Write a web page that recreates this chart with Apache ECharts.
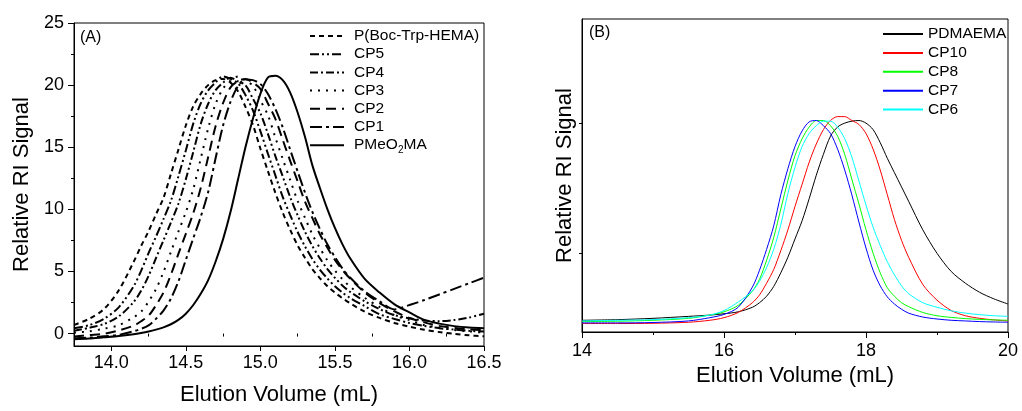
<!DOCTYPE html>
<html><head><meta charset="utf-8">
<script src="https://cdn.jsdelivr.net/npm/echarts@6/dist/echarts.min.js"></script>
<style>html,body{margin:0;padding:0;background:#fff}#c{width:1022px;height:411px}</style>
</head><body><div id="c"></div>
<script>
// ---------- Panel A data ----------
const xA = [13.75,13.85,13.95,14.05,14.15,14.2,14.25,14.3,14.35,14.4,14.45,14.5,14.55,14.6,14.65,14.7,14.75,14.8,14.85,14.9,14.95,15.0,15.05,15.1,15.15,15.2,15.25,15.3,15.35,15.4,15.45,15.5,15.55,15.6,15.7,15.8,15.9,16.0,16.1,16.2,16.3,16.4,16.5];
const pBocTrpHEMA = [0.70,1.18,1.96,3.48,5.77,7.05,8.24,9.6,10.92,12.85,14.8,16.75,18.3,19.3,20.0,20.4,20.5,20.2,19.5,18.25,16.8,14.9,13.1,11.35,9.74,8.35,7.1,6.08,5.17,4.45,3.81,3.30,2.85,2.46,1.76,1.26,0.85,0.55,0.31,0.12,-0.02,-0.14,-0.22];
const cp5 = [0.42,0.67,1.18,2.11,3.81,5.05,6.48,7.81,9.21,10.68,12.65,14.74,16.9,18.53,19.58,20.22,20.7,20.5,20.15,19.2,17.97,16.3,14.5,12.75,11.0,9.54,8.18,7.0,5.98,5.13,4.43,3.81,3.31,2.88,2.21,1.55,1.18,0.85,0.62,0.43,0.32,0.22,0.16];
const cp4 = [0.23,0.46,0.77,1.38,2.54,3.44,4.64,6.08,7.5,8.94,10.45,12.42,14.63,16.87,18.5,19.6,20.2,20.6,20.3,20.0,18.9,17.75,16.1,14.3,12.65,10.98,9.52,8.18,7.02,6.04,5.19,4.49,3.87,3.38,2.6,1.97,1.48,1.23,1.05,1.0,1.09,1.29,1.6];
const cp3 = [0.07,0.18,0.39,0.67,1.31,1.76,2.57,3.58,4.95,6.57,8.2,9.77,11.63,14.08,16.52,18.5,19.73,20.35,20.7,20.35,19.95,18.77,17.6,15.8,14.06,12.36,10.68,9.3,7.95,6.87,5.88,5.07,4.39,3.79,2.88,2.14,1.47,1.08,0.68,0.48,0.29,0.18,0.07];
const cp2 = [-0.23,-0.12,-0.02,0.25,0.64,0.99,1.44,2.28,3.3,4.74,6.41,8.03,9.69,11.72,14.21,16.71,18.56,19.82,20.33,20.5,20.2,19.7,18.54,17.3,15.6,13.9,12.25,10.6,9.27,7.98,6.9,5.93,5.13,4.45,3.3,2.45,1.78,1.25,0.9,0.62,0.45,0.33,0.28];
const cp1 = [-0.37,-0.33,-0.22,-0.1,0.19,0.38,0.66,1.19,1.85,2.82,4.19,5.93,7.67,9.39,11.4,14.13,16.75,18.66,19.92,20.46,20.4,20.1,19.3,18.1,16.6,14.8,13.05,11.33,9.76,8.4,7.17,6.16,5.25,4.53,3.4,2.6,1.94,2.3,2.7,3.15,3.6,4.05,4.5];
const pMeO2MA = [-0.45,-0.4,-0.3,-0.2,-0.05,0.05,0.17,0.32,0.5,0.75,1.1,1.6,2.3,3.2,4.3,5.8,7.6,9.8,12.4,15.0,17.3,19.3,20.6,20.75,20.4,19.4,17.8,15.8,13.5,11.7,10.0,8.5,7.2,6.1,4.4,3.3,2.35,1.7,1.1,0.8,0.6,0.48,0.42];
const namesA = ['P(Boc-Trp-HEMA)','CP5','CP4','CP3','CP2','CP1','PMeO2MA'];
const xATicks = [14.0,14.5,15.0,15.5,16.0,16.5];
const xAMinorTicks = [13.75,14.25,14.75,15.25,15.75,16.25];
const yATicks = [0,5,10,15,20,25];
const yAMinorTicks = [2.5,7.5,12.5,17.5,22.5];

// ---------- Panel B data ----------
const xB = [14.0,14.5,15.0,15.5,15.8,16.0,16.2,16.4,16.5,16.6,16.7,16.8,16.9,17.0,17.1,17.2,17.3,17.4,17.5,17.6,17.7,17.8,17.9,18.0,18.1,18.2,18.3,18.4,18.5,18.6,18.8,19.0,19.2,19.4,19.6,19.8,20.0];
const pdmaema = [0.485,0.49,0.5,0.515,0.525,0.535,0.55,0.585,0.62,0.67,0.745,0.85,0.97,1.11,1.25,1.42,1.6,1.76,1.9,1.97,2.0,2.015,2.02,2.0,1.95,1.85,1.73,1.62,1.51,1.4,1.18,1.0,0.86,0.77,0.7,0.65,0.61];
const cp10 = [0.46,0.46,0.462,0.47,0.485,0.505,0.545,0.62,0.68,0.77,0.875,1.02,1.18,1.36,1.53,1.7,1.84,1.95,2.02,2.05,2.05,2.02,1.99,1.92,1.8,1.64,1.45,1.26,1.1,0.97,0.76,0.64,0.56,0.52,0.5,0.488,0.48];
const cp8 = [0.475,0.478,0.485,0.5,0.525,0.55,0.6,0.71,0.8,0.946,1.12,1.34,1.56,1.75,1.88,1.97,2.02,2.02,1.98,1.9,1.76,1.57,1.38,1.18,1.0,0.85,0.735,0.67,0.62,0.59,0.545,0.52,0.507,0.498,0.492,0.488,0.485];
const cp7 = [0.465,0.465,0.468,0.48,0.505,0.53,0.585,0.74,0.87,1.03,1.21,1.45,1.65,1.82,1.94,2.01,2.02,1.98,1.92,1.8,1.64,1.45,1.24,1.04,0.87,0.75,0.665,0.61,0.57,0.54,0.51,0.495,0.485,0.48,0.475,0.472,0.47];
const cp6 = [0.48,0.485,0.49,0.505,0.525,0.56,0.625,0.71,0.785,0.89,1.03,1.22,1.46,1.66,1.82,1.92,1.98,2.015,2.015,1.97,1.88,1.74,1.555,1.37,1.2,1.06,0.935,0.835,0.75,0.69,0.62,0.585,0.558,0.54,0.528,0.52,0.515];
const namesB = ['PDMAEMA','CP10','CP8','CP7','CP6'];
const xBTicks = [14,16,18,20];
const xBMinorTicks = [15,17,19];
const yBTicks = [1,2];

const FONT = 'Liberation Sans, Arial, sans-serif';
const pairs = (xs, ys) => xs.map((x, i) => [x, ys[i]]);

const dashA = [[5,4],[9,3,2,3,2,3],[8,3,2,3,8,3,2,3,2,3],[2,6],[10,6],[12,4,3,4],'solid'];
const dataA = [pBocTrpHEMA, cp5, cp4, cp3, cp2, cp1, pMeO2MA];
const colorsB = ['#000000','#ff0000','#00ff00','#0000ff','#00ffff'];
const dataB = [pdmaema, cp10, cp8, cp7, cp6];

const series = [];
namesA.forEach((n, i) => series.push({
  name: n, type: 'line', xAxisIndex: 0, yAxisIndex: 0, data: pairs(xA, dataA[i]),
  symbol: 'none', smooth: 0.3, color: '#000',
  lineStyle: {color: '#000', width: 2, type: dashA[i]}
}));
namesB.forEach((n, i) => series.push({
  name: n, type: 'line', xAxisIndex: 2, yAxisIndex: 2, data: pairs(xB, dataB[i]),
  symbol: 'none', smooth: 0.3, color: colorsB[i],
  lineStyle: {color: colorsB[i], width: 1}
}));

const lab = {color:'#000', fontFamily: FONT, fontSize: 18};
const nameSt = {color:'#000', fontFamily: FONT, fontSize: 22};
const line = {show: true, onZero: false, lineStyle: {color: '#000', width: 1}};

const chart = echarts.init(document.getElementById('c'), null, {renderer: 'canvas'});
chart.setOption({
  animation: false,
  backgroundColor: '#fff',
  grid: [
    {left: 74, top: 23, width: 410, height: 326, show: true, borderColor: '#000', borderWidth: 1, backgroundColor: 'transparent'},
    {left: 582, top: 19, width: 426, height: 313, show: true, borderColor: '#000', borderWidth: 1, backgroundColor: 'transparent'}
  ],
  title: [
    {text: '(A)', left: 80, top: 30, padding: 0, textStyle: {fontFamily: FONT, fontSize: 16, fontWeight: 'normal', color: '#000'}},
    {text: '(B)', left: 589, top: 25, padding: 0, textStyle: {fontFamily: FONT, fontSize: 16, fontWeight: 'normal', color: '#000'}}
  ],
  legend: [
    {data: namesA, orient: 'vertical', left: 309, top: 28, padding: 0, itemWidth: 34, itemHeight: 10, itemGap: 2.2,
     selectedMode: false, itemStyle: {opacity: 0},
     formatter: n => n === 'PMeO2MA' ? '{n|PMeO}{s|2}{n|MA}' : '{n|' + n + '}',
     textStyle: {color: '#000', fontFamily: FONT, fontSize: 15.5, padding: [0,0,0,5],
       rich: {n: {fontSize: 15.5, lineHeight: 16, verticalAlign: 'top', fontFamily: FONT, color: '#000'},
              s: {fontSize: 10, lineHeight: 10, padding: [8,0,0,0], verticalAlign: 'top', fontFamily: FONT, color: '#000'}}}},
    {data: namesB, orient: 'vertical', left: 882, top: 26, padding: 0, itemWidth: 40, itemHeight: 10, itemGap: 2.9,
     selectedMode: false, itemStyle: {opacity: 0},
     textStyle: {color: '#000', fontFamily: FONT, fontSize: 15.5, lineHeight: 16}}
  ],
  xAxis: [
    {type: 'value', gridIndex: 0, min: 13.75, max: 16.5, position: 'bottom',
     name: 'Elution Volume (mL)', nameLocation: 'middle', nameGap: 38, nameTextStyle: nameSt,
     axisLine: line, splitLine: {show: false},
     axisTick: {show: true, inside: false, length: 5, customValues: xATicks, lineStyle: {color: '#000'}},
     axisLabel: {show: true, margin: 8, customValues: xATicks, formatter: v => Number(v).toFixed(1), ...lab}},
    {type: 'value', gridIndex: 0, min: 13.75, max: 16.5, position: 'bottom',
     axisLine: {show: false}, splitLine: {show: false}, axisLabel: {show: false},
     axisTick: {show: true, length: 3, customValues: xAMinorTicks, lineStyle: {color: '#000'}}},
    {type: 'value', gridIndex: 1, min: 14, max: 20, position: 'bottom',
     name: 'Elution Volume (mL)', nameLocation: 'middle', nameGap: 31, nameTextStyle: nameSt,
     axisLine: line, splitLine: {show: false},
     axisTick: {show: true, length: 6, customValues: xBTicks, lineStyle: {color: '#000'}},
     axisLabel: {show: true, margin: 10, customValues: xBTicks, ...lab}},
    {type: 'value', gridIndex: 1, min: 14, max: 20, position: 'bottom',
     axisLine: {show: false}, splitLine: {show: false}, axisLabel: {show: false},
     axisTick: {show: true, length: 3, customValues: xBMinorTicks, lineStyle: {color: '#000'}}}
  ],
  yAxis: [
    {type: 'value', gridIndex: 0, min: -1, max: 25, position: 'left',
     name: 'Relative RI Signal', nameLocation: 'middle', nameGap: 41, nameTextStyle: nameSt,
     axisLine: line, splitLine: {show: false},
     axisTick: {show: true, length: 6, customValues: yATicks, lineStyle: {color: '#000'}},
     axisLabel: {show: true, margin: 10, customValues: yATicks, ...lab}},
    {type: 'value', gridIndex: 0, min: -1, max: 25, position: 'left',
     axisLine: {show: false}, splitLine: {show: false}, axisLabel: {show: false},
     axisTick: {show: true, length: 3, customValues: yAMinorTicks, lineStyle: {color: '#000'}}},
    {type: 'value', gridIndex: 1, min: 0.395, max: 2.8, position: 'left',
     name: 'Relative RI Signal', nameLocation: 'middle', nameGap: 6, nameTextStyle: nameSt,
     axisLine: line, splitLine: {show: false},
     axisTick: {show: true, length: 3, customValues: yBTicks, lineStyle: {color: '#000'}},
     axisLabel: {show: false}},
    {type: 'value', gridIndex: 1, min: 0.395, max: 2.8, position: 'left', show: false}
  ],
  series: series
});
</script>
</body></html>
